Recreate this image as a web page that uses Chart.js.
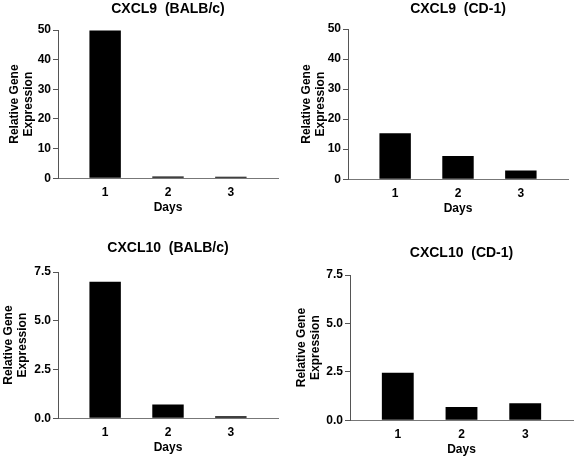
<!DOCTYPE html>
<html lang="en">
<head>
  <meta charset="UTF-8" />
  <title>CXCL9 / CXCL10 expression</title>
  <script src="https://cdn.jsdelivr.net/npm/chart.js"></script>
  <style>
    html, body { margin: 0; padding: 0; background: #fff; overflow: hidden; }
    body { width: 578px; height: 457px; position: relative; }
    canvas { position: absolute; }
    #c1 { left: 0; top: 0; }
    #c2 { left: 290px; top: 0; }
    #c3 { left: 0; top: 228px; }
    #c4 { left: 290px; top: 228px; }
  </style>
</head>
<body>
  <canvas id="c1" width="290" height="219"></canvas>
  <canvas id="c2" width="290" height="220"></canvas>
  <canvas id="c3" width="290" height="229"></canvas>
  <canvas id="c4" width="290" height="229"></canvas>
  <script>
    // values
    const days = [1, 2, 3];
    const cxcl9Balb = [49.8, 0.6, 0.5];
    const cxcl9Cd1 = [15.3, 7.7, 2.9];
    const cxcl10Balb = [7.0, 0.7, 0.1];
    const cxcl10Cd1 = [2.45, 0.68, 0.87];
    const cxcl9Ticks = [0, 10, 20, 30, 40, 50];
    const cxcl10Ticks = [0, 2.5, 5, 7.5];

    Chart.defaults.font.family = "'Liberation Sans', Arial, sans-serif";
    Chart.defaults.font.weight = "bold";
    Chart.defaults.font.size = 12;
    Chart.defaults.color = "#000";

    function makePanel(id, title, values, yTicks, decimals, lay) {
      new Chart(document.getElementById(id), {
        type: "bar",
        data: {
          labels: days,
          datasets: [{ data: values, backgroundColor: "#000", borderWidth: 0,
            barPercentage: 0.5, categoryPercentage: 1 }]
        },
        options: {
          responsive: false,
          animation: false,
          layout: { padding: { left: 0, right: lay.right, top: 0, bottom: 0 } },
          plugins: {
            legend: { display: false },
            tooltip: { enabled: false },
            title: {
              display: true, text: title, fullSize: false,
              font: { size: 14, weight: "bold" }, color: "#000",
              padding: { top: lay.titleTop, bottom: lay.titleBottom }
            }
          },
          scales: {
            x: {
              type: "linear", min: 0.25, max: 3.75, offset: false,
              afterBuildTicks: s => { s.ticks = days.map(v => ({ value: v })); },
              grid: { display: false, drawTicks: false, offset: false },
              border: { display: true, color: "#777", width: 1 },
              ticks: { padding: 7, font: { size: 12, weight: "bold" } },
              title: { display: true, text: "Days", font: { size: 12, weight: "bold" },
                padding: { top: -6, bottom: lay.daysBottom } }
            },
            y: {
              min: 0, max: yTicks[yTicks.length - 1],
              afterBuildTicks: s => { s.ticks = yTicks.map(v => ({ value: v })); },
              afterFit: s => { s.width = lay.yWidth; },
              grid: { drawOnChartArea: false, drawTicks: true, tickLength: 5, color: "#555" },
              border: { display: true, color: "#555", width: 1 },
              ticks: { padding: 2, font: { size: 12, weight: "bold" },
                callback: v => v.toFixed(decimals) },
              title: { display: true, text: ["Relative Gene", "Expression"],
                font: { size: 12, weight: "bold", lineHeight: 1.1 },
                padding: { top: lay.yTitleTop, bottom: 0 } }
            }
          }
        }
      });
    }

    makePanel("c1", "CXCL9  (BALB/c)", cxcl9Balb, cxcl9Ticks, 0,
      { right: 12, titleTop: 1, titleBottom: 12.2, daysBottom: 4, yWidth: 58, yTitleTop: 8.4 });
    makePanel("c2", "CXCL9  (CD-1)", cxcl9Cd1, cxcl9Ticks, 0,
      { right: 12, titleTop: 1, titleBottom: 11.2, daysBottom: 4, yWidth: 58, yTitleTop: 10.4 });
    makePanel("c3", "CXCL10  (BALB/c)", cxcl10Balb, cxcl10Ticks, 1,
      { right: 12, titleTop: 11.6, titleBottom: 15.6, daysBottom: 2, yWidth: 58, yTitleTop: 2.4 });
    makePanel("c4", "CXCL10  (CD-1)", cxcl10Cd1, cxcl10Ticks, 1,
      { right: 7, titleTop: 16.6, titleBottom: 13.6, daysBottom: 0, yWidth: 60, yTitleTop: 5.4 });
  </script>
</body>
</html>
